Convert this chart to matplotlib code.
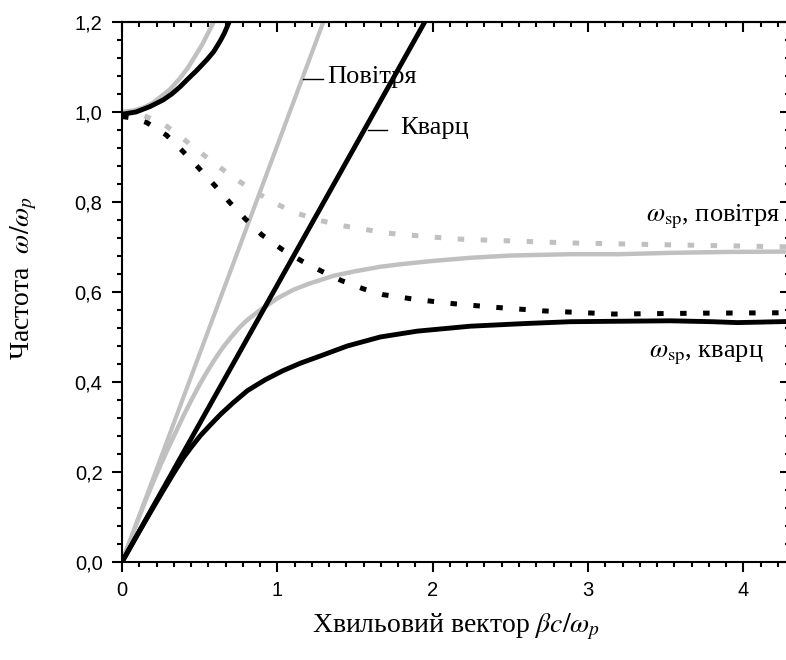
import numpy as np
import matplotlib
matplotlib.use('Agg')
import matplotlib.pyplot as plt
from matplotlib.ticker import MultipleLocator, AutoMinorLocator, FuncFormatter

plt.rcParams['font.family'] = ['Liberation Sans', 'DejaVu Sans']
plt.rcParams['mathtext.fontset'] = 'stix'

# light lines (endpoints)
air_line_x = [0.0, 1.35]
air_line_y = [0.0, 1.25]
quartz_line_x = [0.0, 2.03]
quartz_line_y = [0.0, 1.25]

# surface plasmon, air
air_spp_x = [0.0, 0.1, 0.15, 0.2, 0.25, 0.3, 0.352, 0.4, 0.45, 0.5, 0.546, 0.6, 0.65,
             0.696, 0.75, 0.8, 0.889, 0.95, 1.0, 1.104, 1.2, 1.361, 1.5, 1.662, 1.8,
             2.0, 2.242, 2.5, 2.886, 3.2, 3.53, 3.9, 4.35]
air_spp_y = [0.0, 0.091, 0.135, 0.177, 0.217, 0.255, 0.293, 0.328, 0.362, 0.3945, 0.422,
             0.452, 0.477, 0.497, 0.519, 0.536, 0.560, 0.574, 0.586, 0.605, 0.618, 0.636,
             0.646, 0.656, 0.662, 0.669, 0.676, 0.681, 0.684, 0.684, 0.687, 0.689, 0.690]

# surface plasmon, quartz
quartz_spp_x = [0.0, 0.08, 0.165, 0.25, 0.33, 0.394, 0.4475, 0.505, 0.567, 0.637, 0.716,
                0.808, 0.922, 1.035, 1.15, 1.27, 1.45, 1.662, 1.9, 2.242, 2.6, 2.886,
                3.2, 3.53, 3.8, 3.96, 4.1, 4.35]
quartz_spp_y = [0.0, 0.049, 0.1, 0.15, 0.196, 0.231, 0.256, 0.281, 0.304, 0.329, 0.354,
                0.381, 0.405, 0.425, 0.442, 0.457, 0.480, 0.500, 0.513, 0.524, 0.530, 0.534,
                0.535, 0.536, 0.534, 0.532, 0.533, 0.535]

# upper branches
air_up_x = [0.0, 0.07, 0.1405, 0.198, 0.308, 0.3735, 0.4275, 0.5165, 0.59, 0.624]
air_up_y = [1.0, 1.003, 1.01, 1.02, 1.05, 1.075, 1.10, 1.15, 1.20, 1.225]
quartz_up_x = [0.0, 0.09, 0.18, 0.266, 0.32, 0.374, 0.417, 0.48, 0.546, 0.59, 0.631,
               0.66, 0.685, 0.72]
quartz_up_y = [0.995, 1.0, 1.012, 1.027, 1.04, 1.056, 1.071, 1.092, 1.116, 1.134, 1.157,
               1.176, 1.196, 1.228]

# lossless curves (dashed)
air_sp_x = [0.0, 0.129, 0.277, 0.374, 0.49, 0.61, 0.728, 0.846, 0.985, 1.125, 1.275,
            1.425, 1.705, 2.0, 2.2, 2.886, 3.5, 4.35]
air_sp_y = [1.0, 0.994, 0.971, 0.946, 0.914, 0.882, 0.852, 0.825, 0.797, 0.775, 0.759,
            0.747, 0.731, 0.722, 0.717, 0.709, 0.705, 0.700]
quartz_sp_x = [0.0, 0.08, 0.159, 0.23, 0.288, 0.385, 0.49, 0.599, 0.696, 0.792, 0.9,
               1.029, 1.157, 1.286, 1.415, 1.554, 1.683, 1.9, 2.134, 2.4, 2.714, 3.165,
               3.744, 4.35]
quartz_sp_y = [0.99, 0.986, 0.9765, 0.962, 0.948, 0.915, 0.877, 0.836, 0.798, 0.763,
               0.727, 0.695, 0.669, 0.646, 0.625, 0.607, 0.594, 0.583, 0.574, 0.566,
               0.558, 0.551, 0.553, 0.554]

grey = '#c0c0c0'
serif = ['Liberation Serif', 'DejaVu Serif']

fig = plt.figure(figsize=(7.86, 6.6), dpi=100)
ax = fig.add_axes([122 / 786, 98 / 660, 668 / 786, 540 / 660])

ax.plot(air_sp_x, air_sp_y, color=grey, lw=3.6, dashes=(1.3, 3.3))
ax.plot(air_line_x, air_line_y, color=grey, lw=3.0)
ax.plot(air_spp_x, air_spp_y, color=grey, lw=3.2)
ax.plot(air_up_x, air_up_y, color=grey, lw=3.2)

ax.plot(quartz_sp_x, quartz_sp_y, color='black', lw=3.6, dashes=(1.3, 3.3))
ax.plot(quartz_line_x, quartz_line_y, color='black', lw=3.5)
ax.plot(quartz_spp_x, quartz_spp_y, color='black', lw=3.5)
ax.plot(quartz_up_x, quartz_up_y, color='black', lw=3.5)

ax.set_xlim(0, 4.30)
ax.set_ylim(0, 1.2)

ax.xaxis.set_major_locator(MultipleLocator(1))
ax.xaxis.set_minor_locator(AutoMinorLocator(9))
ax.yaxis.set_major_locator(MultipleLocator(0.2))
ax.yaxis.set_minor_locator(AutoMinorLocator(5))
ax.yaxis.set_major_formatter(FuncFormatter(lambda v, p: f'{v:.1f}'.replace('.', ',')))

for s in ax.spines.values():
    s.set_linewidth(1.5)
ax.tick_params(which='both', direction='out', width=1.5, labelsize=14.5)
ax.tick_params(which='major', length=7, pad=7)
ax.tick_params(which='minor', length=3.5)

# mirrored ticks pointing inward
top = ax.secondary_xaxis('top')
top.xaxis.set_major_locator(MultipleLocator(1))
top.xaxis.set_minor_locator(AutoMinorLocator(9))
top.tick_params(which='both', direction='in', width=1.5, labeltop=False)
top.tick_params(which='major', length=7)
top.tick_params(which='minor', length=3.5)
right = ax.secondary_yaxis('right')
right.yaxis.set_major_locator(MultipleLocator(0.2))
right.yaxis.set_minor_locator(AutoMinorLocator(5))
right.tick_params(which='both', direction='in', width=1.5, labelright=False)
right.tick_params(which='major', length=7)
right.tick_params(which='minor', length=3.5)
for sec in (top, right):
    for s in sec.spines.values():
        s.set_linewidth(1.5)

# labels for the light lines
ax.plot([1.166, 1.295], [1.073, 1.073], color='black', lw=1.0)
ax.text(1.32, 1.078, 'Повітря', family=serif, fontsize=19, va='center', ha='left')
ax.plot([1.585, 1.707], [0.96, 0.96], color='black', lw=1.0)
ax.text(1.79, 0.964, 'Кварц', family=serif, fontsize=19, va='center', ha='left')

ax.text(3.375, 0.756, r'$\omega_{\mathrm{sp}}$, повітря', family=serif, fontsize=19,
        va='baseline', ha='left')
ax.text(3.39, 0.455, r'$\omega_{\mathrm{sp}}$, кварц', family=serif, fontsize=19,
        va='baseline', ha='left')

fig.text(456 / 786, 1 - 627 / 660, r'Хвильовий вектор $\beta c/\omega_p$', family=serif,
         fontsize=20, ha='center', va='center')
fig.text(24 / 786, 1 - 278 / 660, r'Частота  $\omega/\omega_p$', family=serif,
         fontsize=20, ha='center', va='center', rotation=90)

fig.savefig('out.png', dpi=100)
